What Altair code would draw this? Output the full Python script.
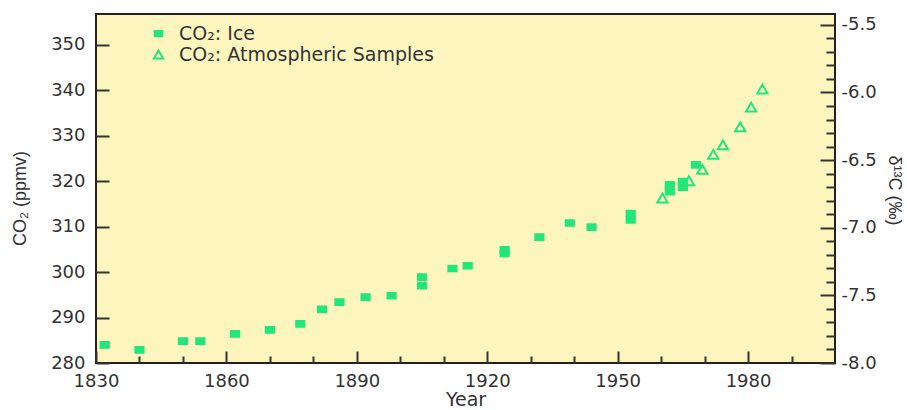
import altair as alt
import pandas as pd

# ---- data ----
ICE = "CO₂: Ice"
ATM = "CO₂: Atmospheric Samples"
series_order = [ICE, ATM]

ice_year = [1832, 1840, 1850, 1854, 1862, 1870, 1877, 1882, 1886, 1892, 1898,
            1905, 1905, 1912, 1915.5, 1924, 1924, 1932, 1939, 1944, 1953, 1953,
            1962, 1962, 1965, 1965, 1968]
ice_co2 = [284.0, 282.9, 284.8, 284.8, 286.4, 287.3, 288.6, 291.8, 293.4, 294.5, 294.8,
           298.9, 297.0, 300.8, 301.4, 304.9, 304.1, 307.7, 310.8, 309.9, 312.9, 311.5,
           319.2, 317.7, 319.9, 318.7, 323.6]

atm_year = [1960.3, 1966.4, 1969.5, 1972.0, 1974.2, 1978.2, 1980.7, 1983.3]
atm_co2 = [316.3, 320.1, 322.6, 325.9, 328.0, 332.0, 336.3, 340.3]

x_ticks = [1830, 1840, 1850, 1860, 1870, 1880, 1890, 1900, 1910, 1920,
           1930, 1940, 1950, 1960, 1970, 1980, 1990]
y_left_ticks = [280, 290, 300, 310, 320, 330, 340, 350]
y_right_ticks = [-8.0, -7.9, -7.8, -7.7, -7.6, -7.5, -7.4, -7.3, -7.2, -7.1,
                 -7.0, -6.9, -6.8, -6.7, -6.6, -6.5, -6.4, -6.3, -6.2, -6.1,
                 -6.0, -5.9, -5.8, -5.7, -5.6, -5.5]

df = pd.DataFrame({
    "year": ice_year + atm_year,
    "co2": ice_co2 + atm_co2,
    "series": [ICE] * len(ice_year) + [ATM] * len(atm_year),
})
df_right = pd.DataFrame({"d13c": y_right_ticks})

GREEN = "#22E67A"
BG = "#FDF5BE"
INK = "#333333"
SQUARE = "M-0.8,-0.55L0.8,-0.55L0.8,0.55L-0.8,0.55Z"
HALF = "abs(datum.value * 2 - round(datum.value * 2)) < 0.001"

legend = alt.Legend(
    title=None, orient="none", legendX=53, legendY=10, padding=0,
    labelFont="DejaVu Sans", labelFontSize=19, labelColor=INK, labelLimit=0,
    symbolSize=90, symbolStrokeWidth=2, rowPadding=1, labelOffset=11,
)

points = alt.Chart(df).mark_point(size=105, strokeWidth=2, opacity=1).encode(
    x=alt.X("year:Q",
            scale=alt.Scale(domain=[1830, 2000], nice=False, zero=False),
            axis=alt.Axis(values=x_ticks, format="d",
                          labelExpr="datum.value % 30 == 0 ? datum.label : ''",
                          tickSize={"expr": "datum.value % 30 == 0 ? -12 : -7"},
                          labelPadding=21, labelFlush=False, labelOverlap=False,
                          grid=False, domain=False, title="Year",
                          titleFont="DejaVu Sans", titleFontSize=19,
                          titleX=369.5, titleY=27, titleBaseline="top")),
    y=alt.Y("co2:Q",
            scale=alt.Scale(domain=[280, 356.8], nice=False, zero=False),
            axis=alt.Axis(values=y_left_ticks, format="d",
                          tickSize={"expr": "-13"}, labelPadding=24,
                          labelFlush=False, labelOverlap=False,
                          grid=False, domain=False, title="CO₂ (ppmv)",
                          titleFont="Liberation Sans", titleFontSize=18,
                          titleX=-76, titleY=184, titleBaseline="middle", titleAngle=270)),
    shape=alt.Shape("series:N", scale=alt.Scale(domain=series_order, range=[SQUARE, "triangle-up"]), legend=legend),
    fill=alt.Fill("series:N", scale=alt.Scale(domain=series_order, range=[GREEN, "transparent"]), legend=legend),
    stroke=alt.Stroke("series:N", scale=alt.Scale(domain=series_order, range=[GREEN, GREEN]), legend=legend),
)

right = alt.Chart(df_right).mark_point(opacity=0).encode(
    y=alt.Y("d13c:Q",
            scale=alt.Scale(domain=[-8.0, -5.42], nice=False, zero=False),
            axis=alt.Axis(orient="right", values=y_right_ticks,
                          labelExpr=HALF + " ? (datum.value < 0 ? '-' : '') + format(abs(datum.value), '.1f') : ''",
                          tickSize={"expr": HALF + " ? -15 : -9"},
                          labelPadding=21, labelFlush=False, labelOverlap=False,
                          grid=False, domain=False, title="δ¹³C (‰)", titleAngle=90,
                          titleFont="Liberation Sans", titleFontSize=18,
                          titleX=58, titleY=176, titleBaseline="middle")),
)

chart = alt.layer(points, right).resolve_scale(y="independent").properties(
    width=739, height=349,
    autosize=alt.AutoSizeParams(type="none"),
    padding={"left": 96, "top": 14, "right": 72, "bottom": 47},
    background="white",
).configure_view(
    fill=BG, stroke="#222222", strokeWidth=2,
).configure_axis(
    labelFont="DejaVu Sans", labelFontSize=18, labelColor=INK,
    tickColor=INK, tickWidth=2, titleColor=INK, titleFontWeight="normal",
)

chart.save("out.html", embed_options={"renderer": "svg", "actions": False})
